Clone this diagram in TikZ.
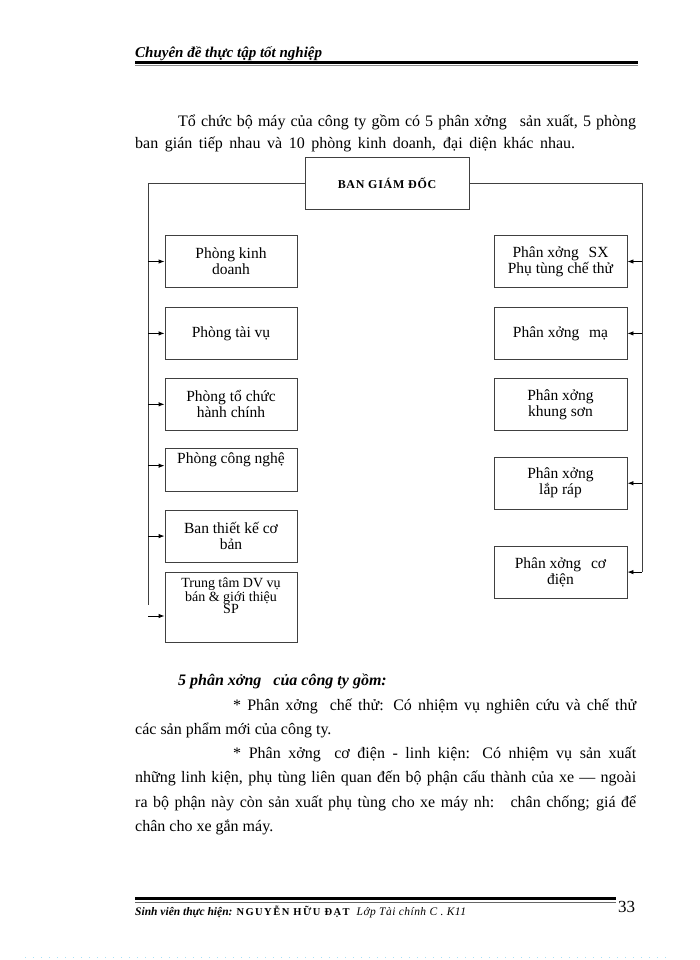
\documentclass[tikz,border=0pt]{standalone}
\usepackage{fontspec}
\setmainfont{Liberation Serif}
\newfontfamily\bgdfont[LetterSpace=6]{Liberation Serif Bold}
\newfontfamily\namefont[LetterSpace=14]{Liberation Serif Bold}
\newfontfamily\footfont[LetterSpace=4]{Liberation Serif Italic}
\usetikzlibrary{positioning,arrows.meta,calc}

\begin{document}
\begin{tikzpicture}[x=1pt,y=-1pt,
  dept/.style={rectangle,draw=black!75,line width=0.9pt,minimum width=132pt,
               minimum height=52pt,align=center,inner sep=2pt,
               font=\fontsize{15.5}{16}\selectfont},
  board/.style={rectangle,draw=black!75,line width=0.9pt,minimum width=164pt,
                minimum height=52pt,font=\bgdfont\fontsize{12}{14}\selectfont},
  link/.style={draw=black!75,line width=0.9pt},
  arrow/.style={-{Latex[length=6pt,width=4.5pt]},black,line width=0.9pt},
  body/.style={anchor=base west,inner sep=0pt,font=\fontsize{16}{18}\selectfont},
  boxtext/.style={anchor=north,inner sep=0pt,align=center}
]
\useasboundingbox (0,0) rectangle (700,960);

% ===== PAGE HEADER =====
\node[anchor=base west,inner sep=0pt,font=\fontsize{15}{17}\selectfont\bfseries\itshape]
  (hdr) at (135,58) {\underline{Chuyên đề thực tập tốt nghiệp}};
\draw[line width=3pt] (135,62.5) -- (638,62.5);
\draw[black!45,line width=1pt] (135,65.5) -- (638,65.5);

% ===== INTRO TEXT =====
\node[body] (intro1) at (178,127)
  {\makebox[458pt][s]{Tổ chức bộ máy của công ty gồm có 5 phân xởng\hspace{8pt} sản xuất, 5 phòng}};
\node[body] (intro2) at (135,149)
  {\makebox[440pt][s]{ban gián tiếp nhau và 10 phòng kinh doanh, đại diện khác nhau.}};

% ===== BOARD =====
\node[board] (bgd) at (387,183) {BAN GIÁM ĐỐC};

% ===== LEFT: OFFICES =====
\node[dept] (kd) at (231,261.5) {Phòng kinh\\doanh};
\node[dept,below=19pt of kd] (tv) {Phòng tài vụ};
\node[dept,below=18pt of tv] (tc) {Phòng tổ chức\\hành chính};
\node[dept,below=17pt of tc,minimum height=43pt,
      label={[boxtext,yshift=-5pt,font=\fontsize{15.5}{16}\selectfont]north:Phòng công nghệ}] (cn) {};
\node[dept,below=18pt of cn] (bt) {Ban thiết kế cơ\\bản};
\node[dept,below=9pt of bt,minimum height=70pt,
      label={[boxtext,yshift=-6pt,font=\fontsize{14}{12.5}\selectfont]north:Trung tâm DV vụ\\bán \& giới thiệu\\SP}] (tt) {};

% ===== RIGHT: WORKSHOPS =====
\node[dept,minimum width=133pt] (sx) at (560.5,261.5) {Phân xởng\hspace{6pt} SX\\Phụ tùng chế thử};
\node[dept,minimum width=133pt,below=19pt of sx] (ma) {Phân xởng\hspace{6pt} mạ};
\node[dept,minimum width=133pt,below=18pt of ma] (ks) {Phân xởng\\khung sơn};
\node[dept,minimum width=133pt,below=26pt of ks] (lr) {Phân xởng\\lắp ráp};
\node[dept,minimum width=133pt,below=36pt of lr] (cd) {Phân xởng\hspace{6pt} cơ\\điện};

% ===== CONNECTORS =====
\coordinate (lcorner) at (148,183);
\coordinate (rcorner) at (642,183);
\coordinate (lend) at (148,605);
\coordinate[yshift=4pt] (cnin) at (cn.west);
\coordinate[yshift=-9pt] (ttin) at (tt.west);

\draw[link] (bgd.west) -- (lcorner) -- (lend);
\draw[link] (bgd.east) -- (rcorner) -- (rcorner |- cd.east);

\foreach \b in {kd,tv,tc,bt} {
  \draw[arrow] (lcorner |- \b.west) -- (\b.west);
}
\draw[arrow] (lcorner |- cnin) -- (cnin);
\draw[arrow] (lcorner |- ttin) -- (ttin);

% no arrow into "khung son"
\foreach \b in {sx,ma,lr,cd} {
  \draw[arrow] (rcorner |- \b.east) -- (\b.east);
}

% ===== LOWER TEXT =====
\node[body,font=\fontsize{16}{18}\selectfont\bfseries\itshape] (sub) at (178,685)
  {5 phân xởng\hspace{8pt} của công ty gồm:};
\node[body] (it1a) at (233,710)
  {\makebox[403pt][s]{* Phân xởng\hspace{6pt} chế thử: Có nhiệm vụ nghiên cứu và chế thử}};
\node[body] (it1b) at (135,734) {các sản phẩm mới của công ty.};
\node[body] (it2a) at (233,758)
  {\makebox[403pt][s]{* Phân xởng\hspace{6pt} cơ điện - linh kiện: Có nhiệm vụ sản xuất}};
\node[body] (it2b) at (135,782)
  {\makebox[501pt][s]{những linh kiện, phụ tùng liên quan đến bộ phận cấu thành của xe — ngoài}};
\node[body] (it2c) at (135,807)
  {\makebox[501pt][s]{ra bộ phận này còn sản xuất phụ tùng cho xe máy nh:\hspace{8pt} chân chống; giá để}};
\node[body] (it2d) at (135,831) {chân cho xe gắn máy.};

% ===== PAGE FOOTER =====
\draw[line width=3pt] (135,898.5) -- (616,898.5);
\draw[black!60,line width=1pt] (135,902) -- (616,902);
\node[anchor=base west,inner sep=0pt] (ftr) at (135,915)
  {{\fontsize{11.5}{13}\selectfont\bfseries\itshape Sinh viên thực hiện:}\hspace{4pt}%
   {\namefont\fontsize{10.5}{12}\selectfont NGUYỄN HỮU ĐẠT}\hspace{7pt}%
   {\footfont\fontsize{11.5}{13}\selectfont Lớp Tài chính C . K11}};
\node[anchor=base west,inner sep=0pt,font=\fontsize{17}{19}\selectfont] (pg) at (618,912) {33};
\draw[cyan!35,line width=1pt,dash pattern=on 1pt off 7pt] (25,957) -- (670,957);

\end{tikzpicture}
\end{document}
